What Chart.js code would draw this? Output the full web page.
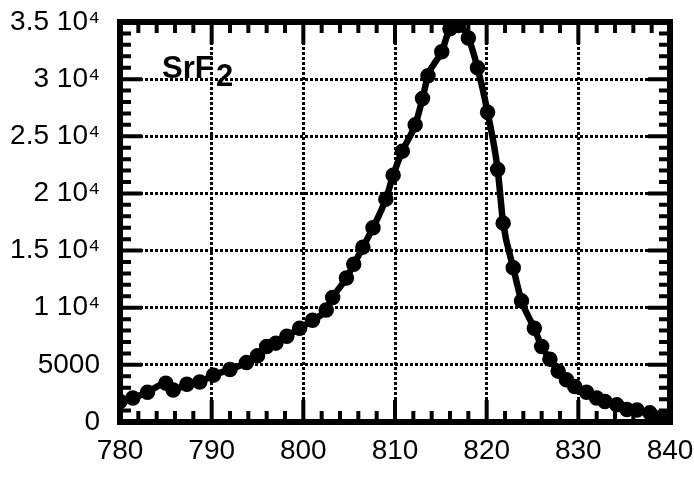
<!DOCTYPE html>
<html>
<head>
<meta charset="utf-8">
<script src="https://cdn.jsdelivr.net/npm/chart.js@4/dist/chart.umd.min.js"></script>
<style>
  html, body { margin: 0; padding: 0; background: #fff; }
  #wrap { width: 694px; height: 477px; }
</style>
</head>
<body>
<div id="wrap"><canvas id="c"></canvas></div>
<script>
// wavelength (x) and counts (y)
const wavelengths = [
  780.0, 781.4, 783.0, 785.0, 785.8, 787.3, 788.7, 790.2, 792.0, 793.8,
  795.0, 796.0, 797.0, 798.2, 799.6, 801.0, 802.5, 803.2, 804.7, 805.5,
  806.5, 807.6, 809.0, 809.8, 810.8, 812.2, 813.0, 813.6, 815.1, 816.0,
  816.9, 818.0, 819.0, 820.1, 821.2, 821.8, 822.9, 823.8, 825.2, 826.0,
  826.9, 827.8, 828.7, 829.6, 830.9, 832.0, 832.9, 834.2, 835.3, 836.4,
  837.8, 839.1, 840.0
];
const counts = [
  1800, 2100, 2600, 3400, 2800, 3300, 3500, 4100, 4600, 5200,
  5800, 6600, 6900, 7500, 8200, 8900, 9800, 10900, 12600, 13800,
  15300, 17000, 19500, 21600, 23700, 26000, 28300, 30300, 32400, 34400,
  34700, 33600, 31000, 27100, 22100, 17400, 13500, 10600, 8200, 6600,
  5500, 4450, 3700, 3100, 2600, 2100, 1800, 1500, 1100, 1050,
  800, 450, 350
];
const xMajor = [780, 790, 800, 810, 820, 830, 840];
const yMajor = [0, 5000, 10000, 15000, 20000, 25000, 30000, 35000];
const yTickLabels = ['0', '5000', '1 10⁴', '1.5 10⁴', '2 10⁴', '2.5 10⁴', '3 10⁴', '3.5 10⁴'];

const points = wavelengths.map((w, i) => ({ x: w, y: counts[i] }));
const FONT = "'Liberation Sans', Arial, Helvetica, sans-serif";

// thick frame with inward ticks on all four sides, plus the SrF2 label
const frameTicks = {
  id: 'frameTicks',
  afterDraw(chart) {
    const ctx = chart.ctx;
    const a = chart.chartArea;
    const xs = chart.scales.x, ys = chart.scales.y;
    ctx.save();
    ctx.strokeStyle = '#000';
    ctx.lineCap = 'butt';
    ctx.lineWidth = 4;
    for (let v = 780; v <= 840; v += 2) {
      const px = xs.getPixelForValue(v);
      const len = v % 10 === 0 ? 22 : 11;
      ctx.beginPath();
      ctx.moveTo(px, a.bottom); ctx.lineTo(px, a.bottom - len);
      ctx.moveTo(px, a.top); ctx.lineTo(px, a.top + len);
      ctx.stroke();
    }
    for (let v = 0; v <= 35000; v += 1000) {
      const py = ys.getPixelForValue(v);
      const len = v % 5000 === 0 ? 22 : 11;
      ctx.beginPath();
      ctx.moveTo(a.left, py); ctx.lineTo(a.left + len, py);
      ctx.moveTo(a.right, py); ctx.lineTo(a.right - len, py);
      ctx.stroke();
    }
    ctx.lineWidth = 6;
    ctx.strokeRect(a.left, a.top, a.right - a.left, a.bottom - a.top);

    ctx.fillStyle = '#000';
    ctx.font = 'bold 31px ' + FONT;
    ctx.textBaseline = 'alphabetic';
    ctx.fillText('SrF', 162, 78);
    ctx.fillText('2', 216, 86);
    ctx.restore();
  }
};

new Chart(document.getElementById('c'), {
  type: 'scatter',
  data: {
    datasets: [{
      data: points,
      showLine: true,
      borderColor: '#000',
      backgroundColor: '#000',
      borderWidth: 6.5,
      pointRadius: 4.5,
      pointHoverRadius: 4.5,
      cubicInterpolationMode: 'monotone'
    }]
  },
  options: {
    responsive: true,
    maintainAspectRatio: false,
    animation: false,
    layout: { padding: { top: 22, right: 24, bottom: 0, left: 0 } },
    plugins: { legend: { display: false }, tooltip: { enabled: false } },
    scales: {
      x: {
        type: 'linear',
        min: 780, max: 840,
        afterBuildTicks(scale) { scale.ticks = xMajor.map(v => ({ value: v })); },
        afterFit(scale) {
          scale.height = 55;
          scale.paddingLeft = 0;
          scale.paddingRight = 0;
        },
        grid: { color: '#000', lineWidth: 3, drawTicks: false },
        border: { display: false, dash: [3, 2] },
        ticks: {
          color: '#000',
          padding: 12,
          font: { family: FONT, size: 28 }
        }
      },
      y: {
        min: 0, max: 35000,
        afterBuildTicks(scale) { scale.ticks = yMajor.map(v => ({ value: v })); },
        afterFit(scale) {
          scale.width = 120;
          scale.paddingTop = 0;
          scale.paddingBottom = 0;
        },
        grid: { color: '#000', lineWidth: 3, drawTicks: false },
        border: { display: false, dash: [3, 2] },
        ticks: {
          color: '#000',
          padding: 20,
          font: { family: FONT, size: 28 },
          callback: (v) => yTickLabels[yMajor.indexOf(v)]
        }
      }
    }
  },
  plugins: [frameTicks]
});
</script>
</body>
</html>
